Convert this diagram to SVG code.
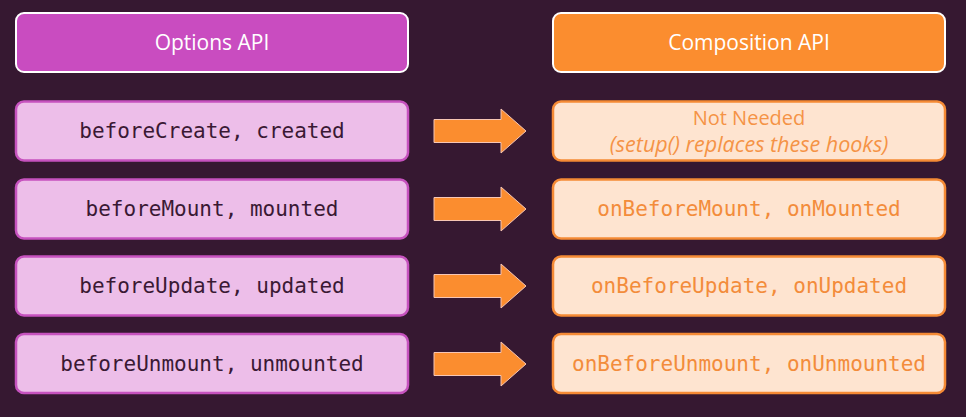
<svg xmlns="http://www.w3.org/2000/svg" width="966" height="417" viewBox="0 0 966 417">
  <style>
    .bg { fill: #361831; }
    .hdr-l { fill: #c94cc0; stroke: #ffffff; stroke-width: 2; }
    .hdr-r { fill: #fb8d2f; stroke: #ffffff; stroke-width: 2; }
    .row-l { fill: #edbee9; stroke: #c652be; stroke-width: 2.5; }
    .row-r { fill: #fee4d0; stroke: #f58a35; stroke-width: 2.5; }
    .hdr-t { font-family: "Open Sans", "Noto Sans", sans-serif; font-size: 21px; fill: #ffffff; text-anchor: middle; }
    .mono-l { font-family: "DejaVu Sans Mono", monospace; font-size: 21px; fill: #3a1934; text-anchor: middle; }
    .mono-r { font-family: "DejaVu Sans Mono", monospace; font-size: 21px; fill: #f38c3b; text-anchor: middle; }
    .sans-r { font-family: "Open Sans", "Noto Sans", sans-serif; font-size: 20px; fill: #f59346; text-anchor: middle; }
    .sans-ri { font-family: "Open Sans", "Noto Sans", sans-serif; font-size: 21.5px; font-style: italic; fill: #f59346; text-anchor: middle; }
    .arrow { fill: #fb8d2f; stroke: #f7c6b4; stroke-width: 1; }
  </style>
  <defs>
    <path id="arr" d="M434,-11.5 H501 V-22 L526,0 L501,22 V11.5 H434 Z"/>
  </defs>

  <rect class="bg" x="0" y="0" width="966" height="417"/>

  <!-- column headers -->
  <g id="options-header">
    <rect class="hdr-l" x="16" y="13" width="392" height="59" rx="8"/>
    <text class="hdr-t" x="212" y="50">Options API</text>
  </g>
  <g id="composition-header">
    <rect class="hdr-r" x="553" y="13" width="392" height="59" rx="8"/>
    <text class="hdr-t" x="749" y="50">Composition API</text>
  </g>

  <!-- options API hooks -->
  <g id="opt-create">
    <rect class="row-l" x="16" y="101.5" width="392" height="59" rx="8"/>
    <text class="mono-l" x="212" y="138">beforeCreate, created</text>
  </g>
  <g id="opt-mount">
    <rect class="row-l" x="16" y="179.5" width="392" height="59" rx="8"/>
    <text class="mono-l" x="212" y="216">beforeMount, mounted</text>
  </g>
  <g id="opt-update">
    <rect class="row-l" x="16" y="256.5" width="392" height="59" rx="8"/>
    <text class="mono-l" x="212" y="293">beforeUpdate, updated</text>
  </g>
  <g id="opt-unmount">
    <rect class="row-l" x="16" y="334" width="392" height="59" rx="8"/>
    <text class="mono-l" x="212" y="371">beforeUnmount, unmounted</text>
  </g>

  <!-- composition API equivalents -->
  <g id="comp-create">
    <rect class="row-r" x="553" y="101.5" width="392" height="59" rx="8"/>
    <text class="sans-r" x="749" y="125">Not Needed</text>
    <text class="sans-ri" x="749" y="152">(setup() replaces these hooks)</text>
  </g>
  <g id="comp-mount">
    <rect class="row-r" x="553" y="179.5" width="392" height="59" rx="8"/>
    <text class="mono-r" x="749" y="216">onBeforeMount, onMounted</text>
  </g>
  <g id="comp-update">
    <rect class="row-r" x="553" y="256.5" width="392" height="59" rx="8"/>
    <text class="mono-r" x="749" y="293">onBeforeUpdate, onUpdated</text>
  </g>
  <g id="comp-unmount">
    <rect class="row-r" x="553" y="334" width="392" height="59" rx="8"/>
    <text class="mono-r" x="749" y="371">onBeforeUnmount, onUnmounted</text>
  </g>

  <!-- connectors -->
  <g id="connectors">
    <use href="#arr" class="arrow" transform="translate(0,131)"/>
    <use href="#arr" class="arrow" transform="translate(0,209)"/>
    <use href="#arr" class="arrow" transform="translate(0,286)"/>
    <use href="#arr" class="arrow" transform="translate(0,364)"/>
  </g>
</svg>
